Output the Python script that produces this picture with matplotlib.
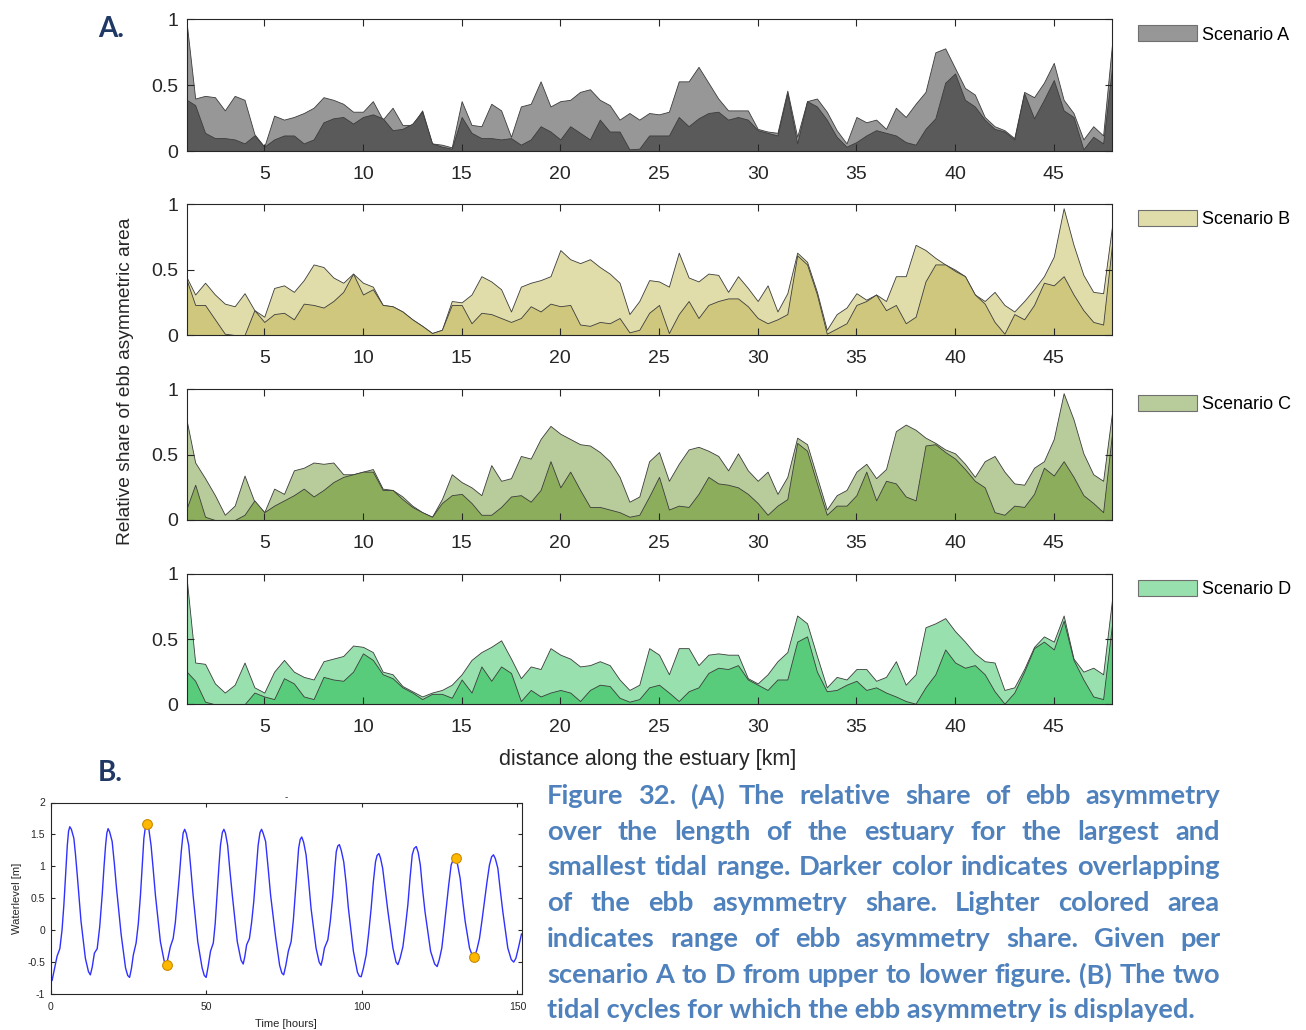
import numpy as np
import matplotlib
matplotlib.use("Agg")
import matplotlib.pyplot as plt
from matplotlib.patches import Patch

W, H = 1306, 1030
DPI = 100

plt.rcParams["font.family"] = ["Liberation Sans", "DejaVu Sans"]
plt.rcParams["axes.unicode_minus"] = False

# ---------------------------------------------------------------- data
# distance along the estuary [km]
km = np.concatenate(([1.07], np.arange(1.5, 47.51, 0.5), [47.95]))

scenario_names = ["Scenario A", "Scenario B", "Scenario C", "Scenario D"]

# range of ebb-asymmetry share (lighter area)
share_range_a = [
    0.97, 0.40, 0.42, 0.41, 0.31, 0.42, 0.39, 0.13, 0.035,
    0.27, 0.24, 0.26, 0.29, 0.33, 0.41, 0.39, 0.36, 0.30, 0.30,
    0.38, 0.24, 0.33, 0.20, 0.20, 0.31, 0.06, 0.05, 0.03, 0.38,
    0.20, 0.19, 0.36, 0.31, 0.11, 0.34, 0.36, 0.53, 0.34, 0.38,
    0.39, 0.45, 0.47, 0.39, 0.35, 0.24, 0.29, 0.24, 0.29, 0.28,
    0.30, 0.53, 0.53, 0.64, 0.52, 0.40, 0.31, 0.31, 0.31, 0.17,
    0.15, 0.14, 0.46, 0.11, 0.38, 0.40, 0.30, 0.16, 0.06, 0.26,
    0.22, 0.24, 0.17, 0.33, 0.26, 0.36, 0.45, 0.75, 0.78, 0.63,
    0.48, 0.43, 0.26, 0.19, 0.16, 0.10, 0.45, 0.41, 0.52, 0.67,
    0.39, 0.29, 0.09, 0.19, 0.12, 0.81]
share_range_b = [
    0.44, 0.31, 0.40, 0.31, 0.24, 0.22, 0.32, 0.19, 0.14,
    0.36, 0.38, 0.33, 0.42, 0.54, 0.52, 0.44, 0.40, 0.47, 0.40,
    0.37, 0.23, 0.22, 0.18, 0.12, 0.07, 0.015, 0.04, 0.26, 0.25,
    0.31, 0.45, 0.41, 0.35, 0.18, 0.37, 0.40, 0.42, 0.45, 0.65,
    0.58, 0.55, 0.58, 0.52, 0.47, 0.40, 0.16, 0.26, 0.42, 0.41,
    0.37, 0.63, 0.44, 0.41, 0.47, 0.46, 0.33, 0.45, 0.36, 0.26,
    0.38, 0.18, 0.32, 0.63, 0.56, 0.33, 0.04, 0.16, 0.21, 0.32,
    0.27, 0.31, 0.26, 0.45, 0.45, 0.69, 0.65, 0.59, 0.54, 0.50,
    0.45, 0.31, 0.26, 0.33, 0.23, 0.18, 0.26, 0.35, 0.45, 0.60,
    0.97, 0.69, 0.46, 0.33, 0.32, 0.83]
share_range_c = [
    0.76, 0.44, 0.32, 0.19, 0.04, 0.11, 0.34, 0.14, 0.06,
    0.24, 0.20, 0.38, 0.40, 0.44, 0.43, 0.44, 0.35, 0.35, 0.37,
    0.39, 0.24, 0.23, 0.18, 0.11, 0.06, 0.025, 0.16, 0.35, 0.29,
    0.25, 0.19, 0.42, 0.30, 0.32, 0.49, 0.47, 0.62, 0.72, 0.66,
    0.62, 0.58, 0.57, 0.52, 0.45, 0.33, 0.14, 0.18, 0.45, 0.52,
    0.30, 0.43, 0.54, 0.56, 0.53, 0.49, 0.38, 0.51, 0.38, 0.30,
    0.37, 0.20, 0.33, 0.63, 0.58, 0.33, 0.08, 0.19, 0.23, 0.37,
    0.43, 0.32, 0.39, 0.68, 0.73, 0.69, 0.63, 0.59, 0.54, 0.51,
    0.43, 0.33, 0.45, 0.49, 0.37, 0.28, 0.27, 0.40, 0.45, 0.62,
    0.97, 0.77, 0.51, 0.35, 0.30, 0.82]
share_range_d = [
    0.96, 0.32, 0.31, 0.16, 0.09, 0.15, 0.32, 0.13, 0.09,
    0.25, 0.34, 0.25, 0.21, 0.19, 0.33, 0.35, 0.37, 0.45, 0.44,
    0.40, 0.25, 0.23, 0.14, 0.10, 0.06, 0.09, 0.11, 0.15, 0.23,
    0.34, 0.40, 0.44, 0.49, 0.35, 0.20, 0.29, 0.27, 0.43, 0.38,
    0.35, 0.29, 0.30, 0.33, 0.30, 0.19, 0.11, 0.15, 0.43, 0.38,
    0.23, 0.43, 0.43, 0.30, 0.38, 0.39, 0.38, 0.38, 0.20, 0.16,
    0.23, 0.33, 0.40, 0.68, 0.62, 0.37, 0.13, 0.21, 0.19, 0.27,
    0.27, 0.18, 0.21, 0.33, 0.15, 0.23, 0.59, 0.62, 0.66, 0.56,
    0.48, 0.39, 0.33, 0.32, 0.11, 0.13, 0.27, 0.44, 0.52, 0.48,
    0.68, 0.35, 0.25, 0.28, 0.23, 0.80]

# overlapping ebb-asymmetry share (darker area)
share_overlap_a = [
    0.39, 0.35, 0.14, 0.10, 0.10, 0.09, 0.06, 0.12, 0.035,
    0.09, 0.12, 0.12, 0.06, 0.09, 0.22, 0.25, 0.26, 0.21, 0.26,
    0.28, 0.25, 0.16, 0.17, 0.21, 0.30, 0.06, 0.035, 0.02, 0.26,
    0.14, 0.10, 0.10, 0.09, 0.10, 0.05, 0.09, 0.19, 0.15, 0.09,
    0.19, 0.14, 0.09, 0.24, 0.15, 0.15, 0.015, 0.02, 0.12, 0.12,
    0.12, 0.26, 0.19, 0.25, 0.29, 0.30, 0.24, 0.26, 0.24, 0.16,
    0.14, 0.12, 0.44, 0.06, 0.38, 0.34, 0.24, 0.11, 0.035, 0.07,
    0.12, 0.16, 0.14, 0.12, 0.07, 0.05, 0.17, 0.25, 0.52, 0.59,
    0.39, 0.34, 0.24, 0.17, 0.15, 0.09, 0.44, 0.25, 0.39, 0.54,
    0.31, 0.26, 0.015, 0.11, 0.06, 0.63]
share_overlap_b = [
    0.42, 0.23, 0.23, 0.12, 0.01, 0.0, 0.0, 0.19, 0.10,
    0.16, 0.17, 0.12, 0.24, 0.23, 0.21, 0.26, 0.33, 0.47, 0.31,
    0.35, 0.23, 0.22, 0.18, 0.12, 0.07, 0.015, 0.04, 0.23, 0.23,
    0.09, 0.17, 0.16, 0.13, 0.10, 0.13, 0.22, 0.18, 0.24, 0.22,
    0.23, 0.08, 0.07, 0.10, 0.09, 0.13, 0.02, 0.04, 0.17, 0.23,
    0.015, 0.16, 0.26, 0.13, 0.23, 0.26, 0.28, 0.28, 0.22, 0.13,
    0.09, 0.12, 0.16, 0.61, 0.54, 0.31, 0.01, 0.05, 0.09, 0.23,
    0.26, 0.31, 0.19, 0.23, 0.09, 0.14, 0.41, 0.54, 0.54, 0.49,
    0.45, 0.31, 0.24, 0.10, 0.01, 0.16, 0.12, 0.23, 0.40, 0.38,
    0.45, 0.31, 0.19, 0.10, 0.08, 0.69]
share_overlap_c = [
    0.09, 0.27, 0.025, 0.0, 0.0, 0.0, 0.04, 0.15, 0.06,
    0.11, 0.15, 0.19, 0.24, 0.18, 0.23, 0.29, 0.33, 0.35, 0.37,
    0.37, 0.23, 0.23, 0.16, 0.10, 0.06, 0.025, 0.13, 0.19, 0.20,
    0.13, 0.04, 0.04, 0.10, 0.18, 0.19, 0.14, 0.23, 0.45, 0.25,
    0.37, 0.23, 0.10, 0.10, 0.08, 0.06, 0.025, 0.04, 0.18, 0.33,
    0.08, 0.11, 0.10, 0.20, 0.33, 0.28, 0.27, 0.25, 0.20, 0.13,
    0.04, 0.11, 0.16, 0.59, 0.53, 0.28, 0.04, 0.11, 0.11, 0.19,
    0.37, 0.15, 0.30, 0.28, 0.18, 0.15, 0.57, 0.58, 0.52, 0.47,
    0.39, 0.30, 0.25, 0.06, 0.04, 0.11, 0.10, 0.20, 0.40, 0.34,
    0.45, 0.33, 0.19, 0.13, 0.06, 0.66]
share_overlap_d = [
    0.25, 0.18, 0.02, 0.0, 0.0, 0.0, 0.0, 0.09, 0.06,
    0.04, 0.20, 0.16, 0.06, 0.04, 0.21, 0.19, 0.18, 0.25, 0.39,
    0.34, 0.23, 0.20, 0.13, 0.09, 0.04, 0.08, 0.08, 0.05, 0.19,
    0.09, 0.29, 0.18, 0.29, 0.24, 0.025, 0.11, 0.06, 0.09, 0.11,
    0.09, 0.025, 0.11, 0.15, 0.14, 0.05, 0.02, 0.04, 0.13, 0.15,
    0.09, 0.025, 0.10, 0.13, 0.24, 0.28, 0.27, 0.30, 0.19, 0.15,
    0.11, 0.19, 0.19, 0.48, 0.52, 0.25, 0.10, 0.11, 0.15, 0.18,
    0.11, 0.13, 0.09, 0.06, 0.025, 0.005, 0.13, 0.23, 0.42, 0.32,
    0.28, 0.30, 0.23, 0.10, 0.005, 0.09, 0.25, 0.43, 0.48, 0.42,
    0.64, 0.34, 0.19, 0.06, 0.04, 0.61]

share_range = [share_range_a, share_range_b, share_range_c, share_range_d]
share_overlap = [share_overlap_a, share_overlap_b, share_overlap_c, share_overlap_d]

# water level time series [hours], [m]
tide_time = [
    0.0, 0.5, 1.2, 2.1, 3.0, 3.7, 4.3, 4.9, 5.4, 5.8, 6.2, 6.7, 7.5, 8.0,
    8.6, 9.8, 11.2, 12.2, 12.8, 13.4, 14.1, 15.0, 15.8, 16.6, 17.2, 17.7,
    18.1, 18.5, 19.0, 19.8, 20.5, 21.2, 22.7, 24.1, 24.8, 25.4, 26.0, 26.6,
    27.5, 28.2, 28.9, 29.5, 30.0, 30.5, 31.0, 31.6, 32.3, 33.0, 33.7, 35.3,
    36.5, 37.3, 37.8, 38.5, 39.4, 40.1, 40.7, 41.4, 42.0, 42.6, 43.1, 43.6,
    44.4, 45.1, 45.8, 47.3, 48.7, 49.4, 50.0, 50.6, 51.4, 52.3, 52.9, 53.5,
    54.1, 54.6, 55.2, 55.7, 56.2, 56.9, 57.6, 58.4, 60.0, 61.2, 61.9, 62.4,
    63.0, 63.9, 64.6, 65.3, 66.0, 66.7, 67.3, 67.8, 68.3, 69.1, 69.9, 70.7,
    72.3, 73.6, 74.3, 74.9, 75.6, 76.4, 77.3, 78.0, 78.6, 79.2, 79.7, 80.2,
    80.7, 81.3, 82.1, 82.9, 83.7, 85.3, 86.3, 86.9, 87.4, 88.0, 89.1, 89.9,
    90.7, 91.3, 91.8, 92.3, 92.8, 93.4, 94.2, 95.0, 95.7, 97.3, 98.6, 99.2,
    99.8, 100.5, 101.4, 102.2, 103.0, 103.7, 104.4, 104.9, 105.5, 106.0,
    106.7, 107.5, 108.4, 110.0, 111.0, 111.6, 112.3, 113.2, 114.0, 114.8,
    115.5, 116.2, 116.8, 117.5, 118.1, 118.8, 119.5, 120.3, 122.1, 123.4,
    124.2, 124.9, 125.7, 126.4, 127.1, 127.9, 128.7, 129.4, 130.1, 130.8,
    131.6, 132.4, 133.2, 134.6, 135.5, 136.2, 137.0, 137.8, 138.6, 139.4,
    140.2, 141.0, 141.7, 142.3, 142.9, 143.7, 144.5, 145.3, 146.9, 148.0,
    148.8, 149.5, 150.3, 151.3]
tide_level = [
    -0.70, -0.79, -0.62, -0.41, -0.29, 0.00, 0.40, 0.90, 1.33, 1.55, 1.62,
    1.58, 1.44, 1.20, 0.86, 0.14, -0.44, -0.65, -0.70, -0.58, -0.36, -0.29,
    0.05, 0.55, 1.00, 1.33, 1.52, 1.59, 1.54, 1.39, 1.05, 0.66, -0.07,
    -0.59, -0.71, -0.74, -0.60, -0.39, -0.20, 0.10, 0.55, 1.05, 1.44, 1.62,
    1.67, 1.58, 1.33, 0.95, 0.55, -0.18, -0.48, -0.54, -0.42, -0.26, -0.13,
    0.12, 0.45, 0.85, 1.23, 1.52, 1.58, 1.52, 1.33, 0.95, 0.55, -0.18,
    -0.59, -0.71, -0.74, -0.58, -0.33, -0.20, 0.10, 0.55, 1.00, 1.33, 1.53,
    1.58, 1.52, 1.33, 0.95, 0.55, -0.18, -0.47, -0.53, -0.42, -0.23, -0.13,
    0.12, 0.45, 0.90, 1.33, 1.53, 1.58, 1.52, 1.39, 0.98, 0.55, -0.10,
    -0.55, -0.67, -0.70, -0.55, -0.33, -0.18, 0.15, 0.55, 0.95, 1.28, 1.42,
    1.46, 1.38, 1.18, 0.78, 0.34, -0.28, -0.50, -0.55, -0.45, -0.28, -0.15,
    0.15, 0.55, 0.95, 1.23, 1.32, 1.34, 1.25, 1.07, 0.72, 0.34, -0.33,
    -0.66, -0.72, -0.73, -0.60, -0.39, -0.05, 0.34, 0.75, 1.07, 1.17, 1.20,
    1.13, 0.97, 0.65, 0.29, -0.28, -0.50, -0.54, -0.44, -0.26, 0.05, 0.40,
    0.82, 1.18, 1.28, 1.31, 1.22, 1.02, 0.65, 0.29, -0.33, -0.53, -0.57,
    -0.46, -0.28, 0.02, 0.34, 0.70, 1.02, 1.11, 1.13, 1.02, 0.81, 0.46,
    0.14, -0.28, -0.40, -0.42, -0.30, -0.13, 0.15, 0.45, 0.75, 1.02, 1.15,
    1.18, 1.12, 0.97, 0.62, 0.29, -0.28, -0.46, -0.50, -0.44, -0.28, -0.06]

# high and low water of the two displayed tidal cycles
cycle_time = [31.0, 37.3, 130.1, 136.2]
cycle_level = [1.67, -0.54, 1.13, -0.42]

caption_lines = [
    "Figure 32. (A) The relative share of ebb asymmetry",
    "over the length of the estuary for the largest and",
    "smallest tidal range. Darker color indicates overlapping",
    "of the ebb asymmetry share. Lighter colored area",
    "indicates range of ebb asymmetry share. Given per",
    "scenario A to D from upper to lower figure. (B) The two",
    "tidal cycles for which the ebb asymmetry is displayed.",
]

# ---------------------------------------------------------------- style
light_colors = ["#979797", "#e0ddab", "#b8cc9b", "#98e0ad"]
dark_colors = ["#5a5a5a", "#cfc77e", "#8cae5c", "#58cc7b"]
edge_color = "#3c3c3c"
axis_color = "#262626"

fig = plt.figure(figsize=(W / DPI, H / DPI), dpi=DPI)
fig.patch.set_facecolor("white")


def px_axes(left, top, right, bottom):
    return fig.add_axes([left / W, 1 - bottom / H, (right - left) / W,
                         (bottom - top) / H])


def style_axes(ax, size, length):
    for sp in ax.spines.values():
        sp.set_color(axis_color)
        sp.set_linewidth(0.8)
    ax.tick_params(direction="in", top=True, right=True, length=length,
                   width=0.8, color=axis_color, labelcolor=axis_color,
                   labelsize=size)


# ---------------------------------------------------------------- panel A
panel_tops = [19.3, 204.3, 389.3, 573.7]
panel_bottoms = [151.3, 335.0, 520.0, 704.3]
left_px, right_px = 186.7, 1112.0

for i in range(4):
    ax = px_axes(left_px, panel_tops[i], right_px, panel_bottoms[i])
    ax.fill_between(km, 0, share_range[i], facecolor=light_colors[i],
                    edgecolor=edge_color, linewidth=0.6)
    ax.fill_between(km, 0, share_overlap[i], facecolor=dark_colors[i],
                    edgecolor=edge_color, linewidth=0.6)
    ax.set_xlim(1.07, 47.95)
    ax.set_ylim(0, 1)
    ax.set_xticks([5, 10, 15, 20, 25, 30, 35, 40, 45])
    ax.set_yticks([0, 0.5, 1])
    ax.set_yticklabels(["0", "0.5", "1"])
    style_axes(ax, 14, 5)
    ax.tick_params(axis="x", pad=10.5)
    ax.tick_params(axis="y", pad=6)
    ax.legend(handles=[Patch(facecolor=light_colors[i], edgecolor="#707070",
                             linewidth=0.8, label=scenario_names[i])],
              loc="upper left", bbox_to_anchor=(1.028, 0.955),
              frameon=False, fontsize=13, handlelength=3.3,
              handleheight=1.0, handletextpad=0.25, borderpad=0,
              borderaxespad=0)

fig.text(125 / W, 1 - 381 / H, "Relative share of ebb asymmetric area",
         rotation=90, ha="center", va="center", fontsize=13.75,
         color=axis_color)
fig.text(648 / W, 1 - 759 / H, "distance along the estuary [km]",
         ha="center", va="center", fontsize=15.5, color=axis_color)

# ---------------------------------------------------------------- panel B
axb = px_axes(50.5, 802.5, 521.5, 994.0)
axb.plot(tide_time, tide_level, color="#3030ff", linewidth=1.0)
axb.plot(cycle_time, cycle_level, linestyle="none", marker="o",
         markersize=7, markerfacecolor="#ffb800", markeredgecolor="#c98a00",
         markeredgewidth=0.8)
axb.set_xlim(0, 151.3)
axb.set_ylim(-1, 2)
axb.set_xticks([0, 50, 100, 150])
axb.set_yticks([-1, -0.5, 0, 0.5, 1, 1.5, 2])
axb.set_yticklabels(["-1", "-0.5", "0", "0.5", "1", "1.5", "2"])
style_axes(axb, 7.5, 3)
axb.tick_params(axis="x", pad=6)
axb.tick_params(axis="y", pad=4)
axb.set_xlabel("Time [hours]", fontsize=8, color=axis_color, labelpad=4.5)
axb.set_ylabel("Waterlevel [m]", fontsize=8, color=axis_color, labelpad=4)
axb.set_title("-", fontsize=7, color=axis_color, pad=2)

# ---------------------------------------------------------------- labels
label_kw = dict(fontsize=20, fontweight="bold", color="#1f3864",
                family=["Lato", "DejaVu Sans"], va="center", ha="left")
fig.text(98 / W, 1 - 29 / H, "A.", **label_kw)
fig.text(98 / W, 1 - 773 / H, "B.", **label_kw)

# ---------------------------------------------------------------- caption
cap_left, cap_right = 547.0, 1220.0
cap_last_width = 653.0
cap_y = [796, 832, 867, 903, 939, 975, 1010]
cap_kw = dict(fontweight="bold", color="#4f81bd",
              family=["Lato", "DejaVu Sans"], va="center", ha="left")

renderer = fig.canvas.get_renderer()
probe = fig.text(0, 0, caption_lines[-1], fontsize=10, **cap_kw)
probe_w = probe.get_window_extent(renderer).width
probe.remove()
cap_fs = 10 * cap_last_width / probe_w

for i, line in enumerate(caption_lines):
    y = 1 - cap_y[i] / H
    if i == len(caption_lines) - 1:
        fig.text(cap_left / W, y, line, fontsize=cap_fs, **cap_kw)
        continue
    words = line.split()
    items = [fig.text(0, y, w, fontsize=cap_fs, **cap_kw) for w in words]
    widths = [t.get_window_extent(renderer).width for t in items]
    gap = (cap_right - cap_left - sum(widths)) / (len(words) - 1)
    x = cap_left
    for t, w in zip(items, widths):
        t.set_x(x / W)
        x += w + gap

fig.savefig("out.png", dpi=DPI, facecolor="white")
